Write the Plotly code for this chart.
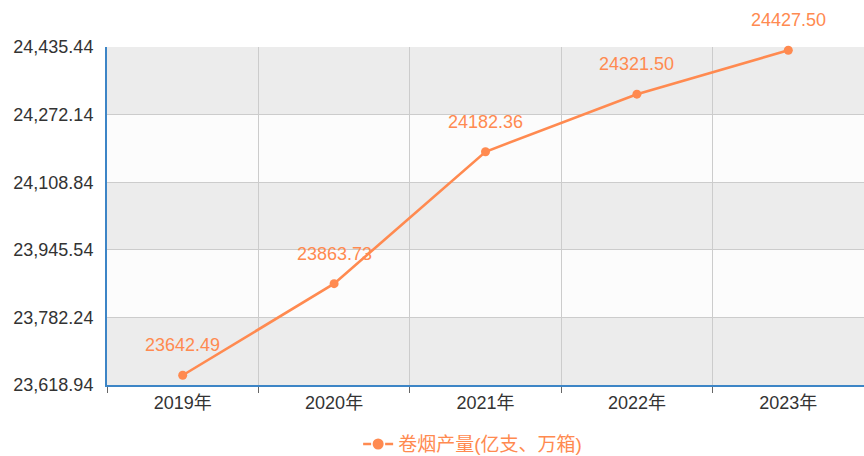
import plotly.graph_objects as go

years = ["2019年", "2020年", "2021年", "2022年", "2023年"]
values = [23642.49, 23863.73, 24182.36, 24321.50, 24427.50]
ytick_vals = [23618.94, 23782.24, 23945.54, 24108.84, 24272.14, 24435.44]
series_name = "卷烟产量(亿支、万箱)"

line_color = "#ff8a50"
font_family = "Liberation Sans, Arial, Noto Sans CJK SC, sans-serif"

fig = go.Figure()
fig.add_trace(go.Scatter(
    x=years, y=values, mode="lines+markers", name=series_name,
    line=dict(color=line_color, width=2.6),
    marker=dict(color=line_color, size=9),
    cliponaxis=False, showlegend=False,
))
# legend entry (dashed "-●-" symbol)
fig.add_trace(go.Scatter(
    x=[None], y=[None], mode="lines+markers", name=series_name,
    line=dict(color=line_color, width=2.6, dash="8px,3px"),
    marker=dict(color=line_color, size=11),
    showlegend=True,
))

# alternating bands
shapes = []
for i in range(len(ytick_vals) - 1):
    color = "#ececec" if i % 2 == 0 else "#fcfcfc"
    shapes.append(dict(type="rect", xref="paper", yref="y", x0=0, x1=1,
                       y0=ytick_vals[i], y1=ytick_vals[i + 1],
                       fillcolor=color, line=dict(width=0), layer="below"))

annotations = []
for x, v in zip(years, values):
    annotations.append(dict(x=x, y=v, text=f"{v:.2f}", showarrow=False,
                            yshift=30, font=dict(color=line_color, size=18,
                                                 family=font_family)))

fig.update_layout(
    width=864, height=456,
    margin=dict(l=107, r=0, t=47, b=71, autoexpand=False),
    paper_bgcolor="white", plot_bgcolor="white",
    shapes=shapes, annotations=annotations,
    font=dict(family=font_family, color="#333333", size=18),
    showlegend=True,
    legend=dict(orientation="h", x=0.483, xanchor="center", y=-0.175,
                yanchor="middle", itemwidth=30,
                font=dict(color=line_color, size=19)),
    xaxis=dict(
        type="category", tickson="boundaries", showgrid=True,
        gridcolor="#cccccc", gridwidth=1,
        showline=True, linecolor="#3d85c6", linewidth=2,
        ticks="outside", ticklen=6, tickcolor="#666666",
        tickfont=dict(size=18, color="#333333"), range=[-0.5, 4.5],
    ),
    yaxis=dict(
        range=[ytick_vals[0], ytick_vals[-1]], tickvals=ytick_vals,
        tickformat=",.2f", showgrid=True, gridcolor="#cccccc", gridwidth=1,
        showline=True, linecolor="#3d85c6", linewidth=2, zeroline=False,
        ticks="", ticklabelstandoff=8, tickfont=dict(size=18, color="#333333"),
    ),
)

fig.write_html(
    "out.html",
    config={"displayModeBar": False},
    post_script="document.body.style.margin='0';document.body.style.padding='0';"
                "document.documentElement.style.overflow='hidden';",
)
